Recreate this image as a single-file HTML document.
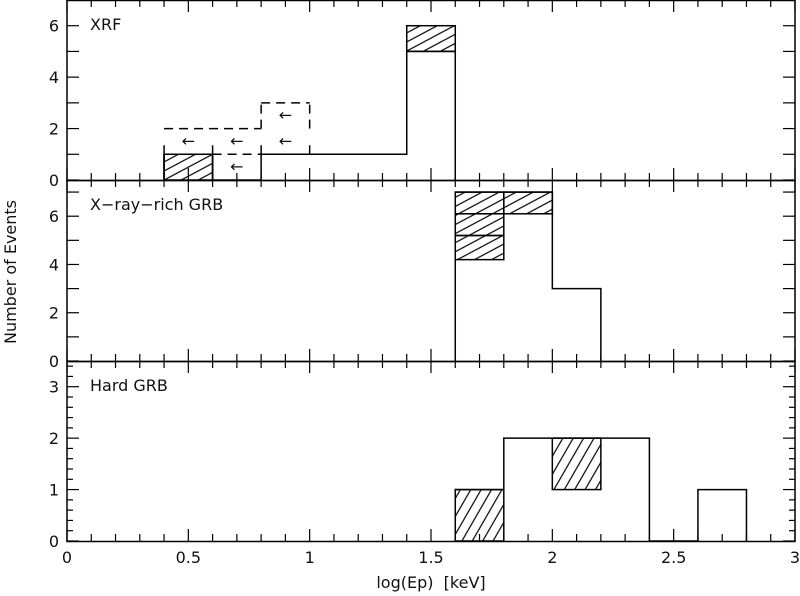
<!DOCTYPE html>
<html><head><meta charset="utf-8"><style>
body{margin:0;background:#fff}
svg{display:block}
text{font-family:"DejaVu Sans","Liberation Sans",sans-serif;font-size:16px;fill:#111}
</style></head><body>
<svg id="c" width="800" height="596" viewBox="0 0 800 596">
<defs>
<pattern id="h1" width="8" height="8" patternUnits="userSpaceOnUse" patternTransform="rotate(-28)"><line x1="0" y1="4" x2="8" y2="4" stroke="#000" stroke-width="1.2"/></pattern>
<pattern id="h2" width="9" height="9" patternUnits="userSpaceOnUse" patternTransform="rotate(-60)"><line x1="0" y1="4.5" x2="9" y2="4.5" stroke="#000" stroke-width="1.2"/></pattern>
</defs>
</svg>
<script>
// data: [lo, hi, count]
const xrfSolid=[[0.4,0.6,1],[0.6,0.8,0],[0.8,1.4,1],[1.4,1.6,5]];
const xrfHatch=[[0.4,0.6,0,1],[1.4,1.6,5,6]];
const xrfDashed=[[0.4,0.8,2],[0.6,0.8,1],[0.8,1.0,3]];
const xrfArrows=[[0.5,1.5],[0.7,1.5],[0.9,1.5],[0.9,2.5],[0.7,0.5]];
const xrrSolid=[[1.6,2.0,7],[2.0,2.2,3]];
const xrrHatch=[[1.6,1.8,4.2,5.2],[1.6,1.8,5.2,6.1],[1.6,1.8,6.1,7],[1.8,2.0,6.1,7]];
const hardSolid=[[1.6,1.8,1],[1.8,2.4,2],[2.4,2.6,0],[2.6,2.8,1]];
const hardHatch=[[1.6,1.8,0,1],[2.0,2.2,1,2]];
const xTicks=[0,0.5,1,1.5,2,2.5,3];
const xTickLabels=["0","0.5","1","1.5","2","2.5","3"];
const panels=[
 {name:"xrf",label:"XRF",top:0,bot:180,max:7,labels:[0,2,4,6],minor:1,pat:"h1"},
 {name:"xray-rich",label:"X\u2212ray\u2212rich GRB",top:180,bot:361,max:7.5,labels:[0,2,4,6],minor:1,pat:"h1"},
 {name:"hard",label:"Hard GRB",top:361,bot:541,max:3.5,labels:[0,1,2,3],minor:0.2,pat:"h2"}];
const X0=67,X1=795;
const sx=v=>X0+(X1-X0)*v/3;
const svg=document.getElementById('c');
const NS="http://www.w3.org/2000/svg";
function mk(t,a,p){const e=document.createElementNS(NS,t);for(const k in a)e.setAttribute(k,a[k]);(p||svg).appendChild(e);return e;}
panels.forEach((p,i)=>{
 const sy=v=>p.bot-(p.bot-p.top)*v/p.max;
 p.sy=sy;
 const g=mk('g',{});
 
 
 const fr=mk('rect',{x:X0,y:p.top+0.5,width:X1-X0,height:p.bot-p.top,fill:'none',stroke:'#000','stroke-width':1.5},g);
 
 
 for(let k=0;k<=30;k++){const x=sx(k/10),L=(k%5==0)?12:7;
  mk('line',{x1:x,y1:p.bot,x2:x,y2:p.bot-L,stroke:'#000','stroke-width':1.2},g);
  mk('line',{x1:x,y1:p.top,x2:x,y2:p.top+L,stroke:'#000','stroke-width':1.2},g);}
 for(let v=0;v<=p.max+1e-9;v+=p.minor){const y=sy(v);const maj=Math.abs(v-Math.round(v))<1e-6;const L=(p.minor<1&&!maj)?6:12;
  mk('line',{x1:X0,y1:y,x2:X0+L,y2:y,stroke:'#000','stroke-width':1.2},g);
  mk('line',{x1:X1,y1:y,x2:X1-L,y2:y,stroke:'#000','stroke-width':1.2},g);}
 p.labels.forEach(v=>{const t=mk('text',{x:X0-8,y:sy(v)+6,'text-anchor':'end'},g);t.textContent=v;
  
  });
 const lt=mk('text',{x:90,y:p.top+30},g);lt.textContent=p.label;
 
 
});
function hatch(arr,p){arr.forEach(b=>{const r=mk('rect',{x:sx(b[0]),y:p.sy(b[3]),width:sx(b[1])-sx(b[0]),height:p.sy(b[2])-p.sy(b[3]),fill:'url(#'+p.pat+')',stroke:'#000','stroke-width':1.5});
 
 });}
function solid(arr,p){
 let d='M'+sx(arr[0][0])+','+p.sy(0);
 arr.forEach(b=>{d+=' L'+sx(b[0])+','+p.sy(b[2])+' L'+sx(b[1])+','+p.sy(b[2]);});
 d+=' L'+sx(arr[arr.length-1][1])+','+p.sy(0);
 const r=mk('path',{d:d,fill:'none',stroke:'#000','stroke-width':1.5});
 
 }
const P0=panels[0],P1=panels[1],P2=panels[2];
solid(xrfSolid,P0);hatch(xrfHatch,P0);
[[0.4,1.35],[0.6,1.35]].forEach(v=>{const l=mk('line',{x1:sx(v[0]),y1:P0.sy(0),x2:sx(v[0]),y2:P0.sy(v[1]),stroke:'#000','stroke-width':1.5});
 });
[[0.8,1,1.35],[1.0,1,1.35]].forEach(v=>{const l=mk('line',{x1:sx(v[0]),y1:P0.sy(v[1]),x2:sx(v[0]),y2:P0.sy(v[2]),stroke:'#000','stroke-width':1.5});
 });
xrfDashed.forEach(d=>{const l=mk('line',{x1:sx(d[0]),y1:P0.sy(d[2]),x2:sx(d[1]),y2:P0.sy(d[2]),stroke:'#000','stroke-width':1.5,'stroke-dasharray':'9,6'});
 });
[[0.8,2,3],[1.0,2,3]].forEach(d=>{const l=mk('line',{x1:sx(d[0]),y1:P0.sy(d[1]),x2:sx(d[0]),y2:P0.sy(d[2]),stroke:'#000','stroke-width':1.5,'stroke-dasharray':'9,6'});
 });
xrfArrows.forEach(a=>{const t=mk('text',{x:sx(a[0]),y:P0.sy(a[1])+5,'text-anchor':'middle','font-size':'15'});t.textContent='\u2190';
 });
solid(xrrSolid,P1);hatch(xrrHatch,P1);
solid(hardSolid,P2);hatch(hardHatch,P2);
xTicks.forEach((v,i)=>{const t=mk('text',{x:sx(v),y:563,'text-anchor':'middle'});t.textContent=xTickLabels[i];
 });
const xt=mk('text',{x:431,y:588,'text-anchor':'middle'});xt.textContent='log(Ep)\u00a0\u00a0[keV]';

const yt=mk('text',{x:0,y:0,'text-anchor':'middle',transform:'translate(16,272) rotate(-90)'});yt.textContent='Number of Events';

</script>
</body></html>
